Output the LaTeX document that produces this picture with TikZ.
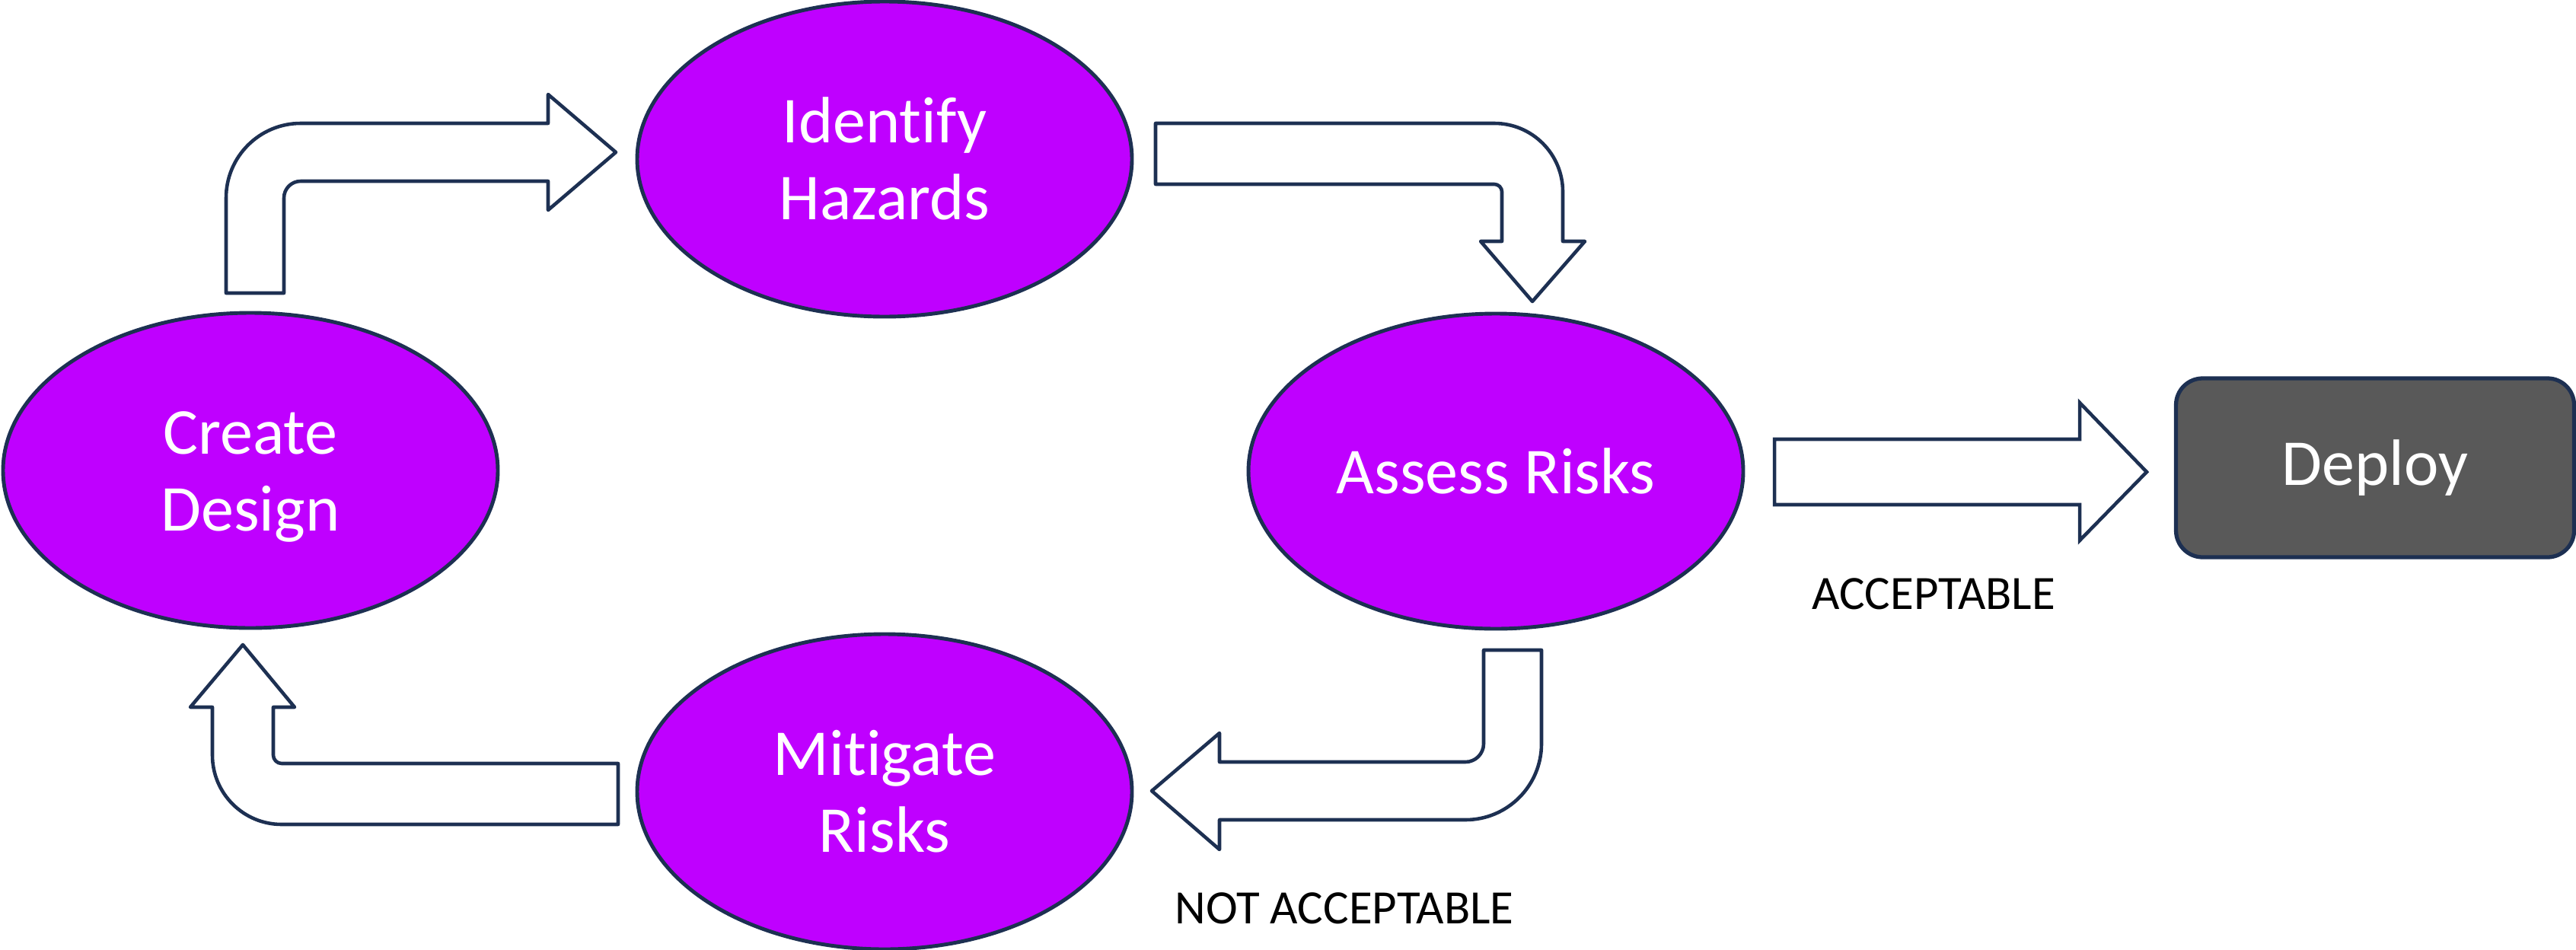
\documentclass[tikz,border=0pt]{standalone}
\usepackage{fontspec}
\setmainfont{Carlito}[Ligatures={NoCommon,NoContextual}]
\usepackage{xcolor}
\usepackage{tikz}
\usetikzlibrary{shapes.geometric}
\definecolor{stepviolet}{HTML}{BF00FF}
\definecolor{edgenavy}{HTML}{1D3052}
\definecolor{deploygrey}{HTML}{595959}
\tikzset{stage/.style={ellipse,draw=edgenavy,fill=stepviolet,line width=1.4pt,inner sep=0pt,
    minimum width=6.5cm,minimum height=4.14cm,text=white,align=center,
    font=\fontsize{24.5}{28.6}\selectfont},
  twoline/.style={text height=1.58cm,text depth=0pt},
  blockarrow/.style={draw=edgenavy,fill=white,line width=1.3pt,line join=round},
  verdict/.style={font=\fontsize{17.9}{21}\selectfont,text=black}}

\begin{document}
\begin{tikzpicture}
    \useasboundingbox (0,0) rectangle (33.84,-12.47);

    \node[stage,twoline] (create) at (3.29,-6.18) {Create\\Design};
    \node[stage,twoline] (identify) at (11.62,-2.09) {Identify\\Hazards};
    \node[stage] (assess) at (19.65,-6.19) {Assess Risks};
    \node[stage,twoline] (mitigate) at (11.62,-10.40) {Mitigate\\Risks};
    \node[draw=edgenavy,fill=deploygrey,line width=1.5pt,rounded corners=0.35cm,
      minimum width=5.23cm,minimum height=2.35cm,text=white,
      font=\fontsize{24.5}{28.6}\selectfont] (deploy) at (31.20,-6.145) {Deploy};

    % create -> identify
    \draw[blockarrow] (2.97,-3.85) -- (2.97,-2.60) arc(180:90:0.98) -- (7.20,-1.62) -- (7.20,-1.24)
      -- (8.09,-2.00) -- (7.20,-2.76) -- (7.20,-2.38) -- (3.95,-2.38) arc(90:180:0.22)
      -- (3.73,-3.85) -- cycle;
    % identify -> assess
    \draw[blockarrow] (15.18,-1.62) -- (19.63,-1.62) arc(90:0:0.90) -- (20.53,-3.17) -- (20.82,-3.17)
      -- (20.13,-3.96) -- (19.45,-3.17) -- (19.73,-3.17) -- (19.73,-2.52) arc(0:90:0.10)
      -- (15.18,-2.42) -- cycle;
    % assess -> mitigate
    \draw[blockarrow] (19.49,-8.54) -- (20.25,-8.54) -- (20.25,-9.77) arc(0:-90:1.0) -- (16.02,-10.77)
      -- (16.02,-11.16) -- (15.13,-10.39) -- (16.02,-9.63) -- (16.02,-10.01) -- (19.25,-10.01)
      arc(-90:0:0.24) -- cycle;
    % mitigate -> create
    \draw[blockarrow] (8.12,-10.03) -- (8.12,-10.83) -- (3.70,-10.83) arc(270:180:0.91) -- (2.79,-9.29)
      -- (2.50,-9.29) -- (3.19,-8.47) -- (3.87,-9.29) -- (3.59,-9.29) -- (3.59,-9.92)
      arc(180:270:0.11) -- cycle;
    % assess -> deploy
    \draw[blockarrow,line join=miter] (23.31,-5.77) -- (27.32,-5.77) -- (27.32,-5.29) -- (28.20,-6.20)
      -- (27.32,-7.10) -- (27.32,-6.63) -- (23.31,-6.63) -- cycle;

    \node[verdict] (accept) at (25.40,-7.80) {ACCEPTABLE};
    \node[verdict] (reject) at (17.66,-11.93) {NOT ACCEPTABLE};
\end{tikzpicture}
\end{document}
